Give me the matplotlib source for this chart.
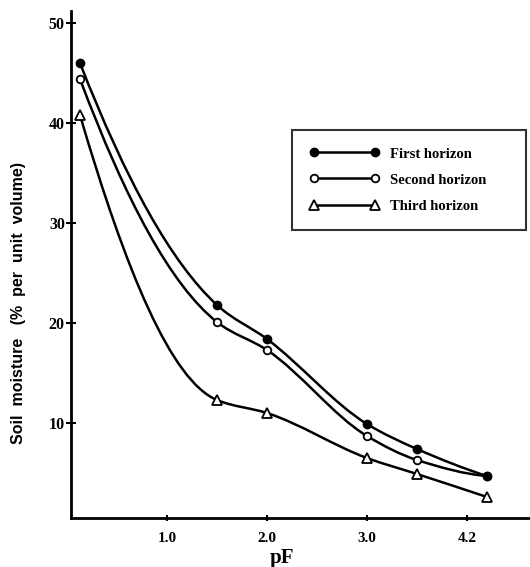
import numpy as np
import matplotlib.pyplot as plt
from matplotlib.path import Path
from matplotlib.patches import PathPatch
from matplotlib.lines import Line2D

# values
pF = [0.13, 1.5, 2.0, 3.0, 3.5, 4.2]
first = [46.0, 21.8, 18.4, 9.9, 7.4, 4.7]
second = [44.4, 20.1, 17.3, 8.7, 6.3, 4.7]
third = [40.8, 12.3, 11.0, 6.5, 4.9, 2.6]
labels = ["First horizon", "Second horizon", "Third horizon"]
xtick_pos = [1, 2, 3, 4]
xtick_lab = ["1.0", "2.0", "3.0", "4.2"]
ytick_pos = [10, 20, 30, 40, 50]


def pchip_slopes(x, y):
    x = np.asarray(x, float); y = np.asarray(y, float)
    h = np.diff(x); d = np.diff(y) / h
    m = np.zeros_like(y)
    for k in range(1, len(x) - 1):
        if d[k-1] * d[k] > 0:
            w1 = 2*h[k] + h[k-1]; w2 = h[k] + 2*h[k-1]
            m[k] = (w1 + w2) / (w1/d[k-1] + w2/d[k])
    m[0] = ((2*h[0] + h[1])*d[0] - h[0]*d[1]) / (h[0] + h[1])
    m[-1] = ((2*h[-1] + h[-2])*d[-1] - h[-1]*d[-2]) / (h[-1] + h[-2])
    return m


def smooth_path(x, y):
    # cubic bezier segments through the points (drawn by matplotlib)
    m = pchip_slopes(x, y)
    verts = [(x[0], y[0])]
    codes = [Path.MOVETO]
    for k in range(len(x) - 1):
        h = x[k+1] - x[k]
        verts += [(x[k] + h/3, y[k] + m[k]*h/3),
                  (x[k+1] - h/3, y[k+1] - m[k+1]*h/3),
                  (x[k+1], y[k+1])]
        codes += [Path.CURVE4]*3
    return Path(verts, codes)


plt.rcParams['font.family'] = ['Liberation Serif', 'DejaVu Serif']
fig = plt.figure(figsize=(5.30, 5.67), dpi=100)
ax = fig.add_axes([0.134, 0.0864, 0.866, 0.894])

styles = [dict(marker='o', ms=6, mfc='black', mec='black'),
          dict(marker='o', ms=5.5, mfc='white', mec='black', mew=1.3),
          dict(marker='^', ms=7.5, mfc='white', mec='black', mew=1.3)]
zs = [5, 4, 3]
handles = []
for ys, st, lab, z in zip([first, second, third], styles, labels, zs):
    ax.add_patch(PathPatch(smooth_path(pF, ys), fill=False, lw=1.8,
                           ec='black', transform=ax.transData, zorder=2))
    ax.plot(pF, ys, ls='none', zorder=z, **st)
    handles.append(Line2D([], [], color='black', lw=1.8, label=lab, **st))

ax.set_xlim(0.04, 4.63)
ax.set_ylim(0.5, 51.2)
for s in ['top', 'right']:
    ax.spines[s].set_visible(False)
for s in ['left', 'bottom']:
    ax.spines[s].set_linewidth(2)

ax.set_xticks(xtick_pos)
ax.set_xticklabels(xtick_lab, fontweight='bold', fontsize=11)
ax.set_yticks(ytick_pos)
ax.set_yticklabels([str(v) for v in ytick_pos], fontweight='bold', fontsize=11.5)
ax.tick_params(axis='y', direction='inout', length=7, width=1.5, pad=1)
ax.tick_params(axis='x', direction='inout', length=4, width=1.5, pad=8)

leg = ax.legend(handles=handles, loc='upper left', numpoints=2,
                bbox_to_anchor=(0.551, 0.607, 0.442, 0.164),
                bbox_transform=fig.transFigure, mode='expand', borderaxespad=0,
                fancybox=False, edgecolor='black', handlelength=4.8,
                handletextpad=0.7, labelspacing=0.88, borderpad=1.2,
                prop={'weight': 'bold', 'size': 10.5})
leg.get_frame().set_linewidth(1.5)
leg.set_zorder(6)

fig.text(0.532, 0.016, "pF", fontsize=15, ha='center', va='center',
         fontweight='bold')
fig.text(0.034, 0.466, "Soil  moisture   (%  per  unit  volume)",
         rotation=90, ha='center', va='center', fontsize=11.5,
         fontweight='bold', family=['Liberation Sans', 'DejaVu Sans'])

fig.savefig("out.png", dpi=100)
